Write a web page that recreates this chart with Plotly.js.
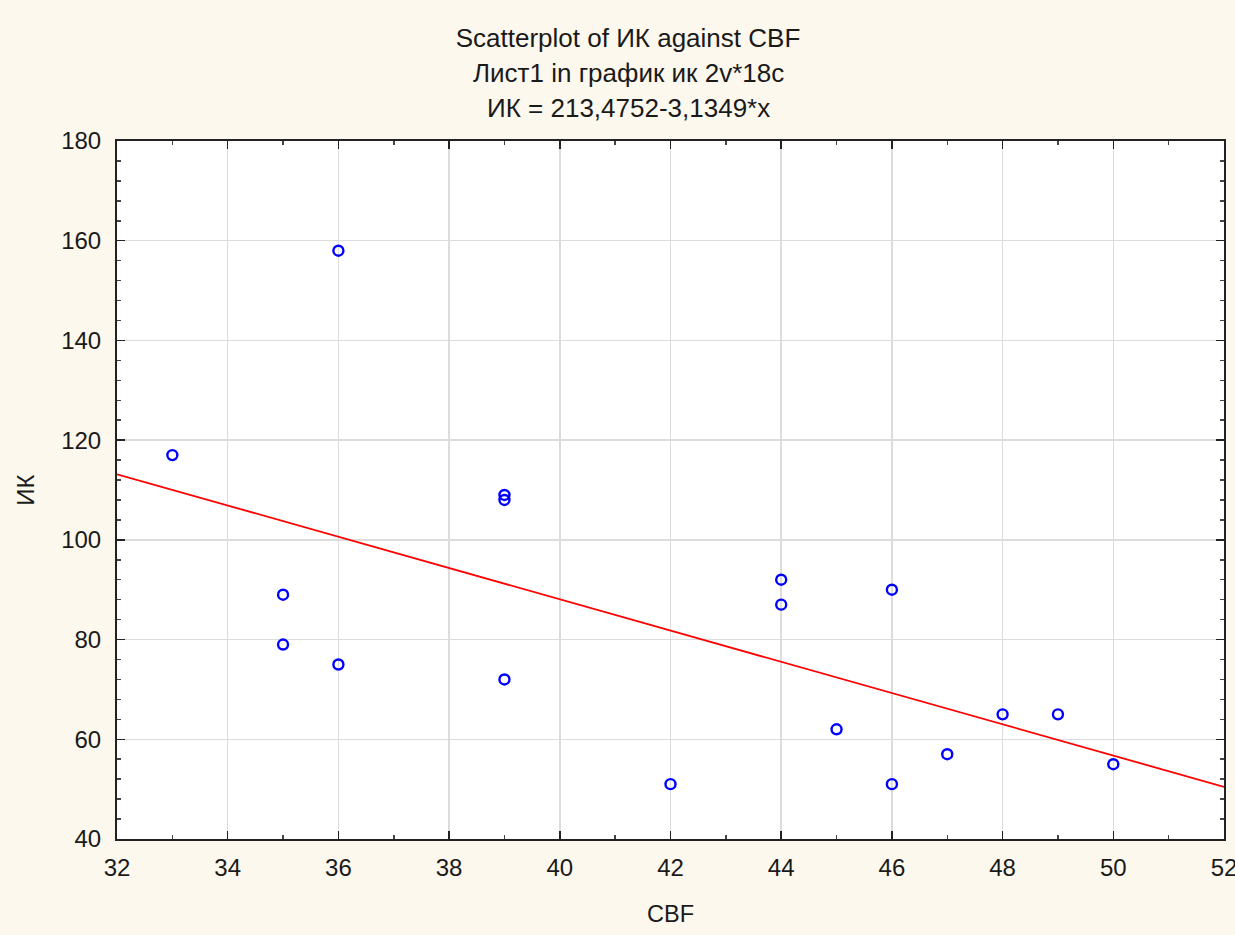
<!DOCTYPE html>
<html>
<head>
<meta charset="utf-8">
<script src="https://cdn.plot.ly/plotly-3.0.1.min.js"></script>
<style>html,body{margin:0;padding:0;background:#fdf8ee;}#chart{width:1235px;height:935px;}</style>
</head>
<body>
<div id="chart"></div>
<script>
const cbf = [33, 35, 35, 36, 36, 39, 39, 39, 42, 44, 44, 45, 46, 46, 47, 48, 49, 50];
const ik  = [117, 89, 79, 158, 75, 109, 108, 72, 51, 92, 87, 62, 90, 51, 57, 65, 65, 55];
const fitX = [32, 52];
const fitY = [113.16, 50.46];
const xTicks = [32, 34, 36, 38, 40, 42, 44, 46, 48, 50, 52];
const yTicks = [40, 60, 80, 100, 120, 140, 160, 180];
const titleLines = ['Scatterplot of ИК against CBF', 'Лист1 in график ик 2v*18c', 'ИК = 213,4752-3,1349*x'];

const font = {family: 'Liberation Sans, Arial, sans-serif', color: '#1a1a1a'};
const W = 1235, H = 935;
const ML = 117, MR = 11, MT = 141, MB = 96;
const PW = W - ML - MR, PH = H - MT - MB;
const titleCx = 628;
function py(px) { return (H - MB - px) / PH; }
function pxr(px) { return (px - ML) / PW; }

const data = [
  {x: fitX, y: fitY, mode: 'lines', type: 'scatter',
   line: {color: '#ff0000', width: 1.8}, hoverinfo: 'skip'},
  {x: cbf, y: ik, mode: 'markers', type: 'scatter',
   marker: {symbol: 'circle-open', size: 10, color: '#0000ff', line: {width: 2.4, color: '#0000ff'}}}
];

const layout = {
  width: W, height: H,
  paper_bgcolor: '#fdf8ee', plot_bgcolor: '#ffffff',
  showlegend: false,
  margin: {l: ML, r: MR, t: MT, b: MB},
  title: {
    text: titleLines[0],
    font: Object.assign({}, font, {size: 26}),
    x: titleCx / W, xanchor: 'center', xref: 'container', yref: 'container', y: 1 - 38 / H, yanchor: 'middle'
  },
  annotations: [
    {text: titleLines[1], xref: 'paper', yref: 'paper', x: pxr(titleCx), y: py(73),
     xanchor: 'center', yanchor: 'middle', showarrow: false, font: Object.assign({}, font, {size: 26})},
    {text: titleLines[2], xref: 'paper', yref: 'paper', x: pxr(titleCx), y: py(108),
     xanchor: 'center', yanchor: 'middle', showarrow: false, font: Object.assign({}, font, {size: 26})}
  ],
  xaxis: {
    range: [32, 52], tickvals: xTicks, ticktext: xTicks.map(String),
    ticks: 'inside', ticklen: 8, tickwidth: 1.5, tickcolor: '#222',
    minor: {dtick: 1, ticks: 'inside', ticklen: 4, tickcolor: '#444', showgrid: false},
    showline: true, linecolor: '#222', linewidth: 2, mirror: 'allticks',
    showgrid: true, gridcolor: '#dcdcdc', gridwidth: 1.5, zeroline: false,
    ticklabeloverflow: 'allow', ticklabelstandoff: 6,
    tickfont: Object.assign({}, font, {size: 24}),
    title: {text: 'CBF', font: Object.assign({}, font, {size: 23.5}), standoff: 26}
  },
  yaxis: {
    range: [40, 180], tickvals: yTicks, ticktext: yTicks.map(String),
    ticks: 'inside', ticklen: 8, tickwidth: 1.5, tickcolor: '#222',
    minor: {dtick: 4, ticks: 'inside', ticklen: 4, tickcolor: '#444', showgrid: false},
    showline: true, linecolor: '#222', linewidth: 2, mirror: 'allticks',
    showgrid: true, gridcolor: '#dcdcdc', gridwidth: 1.5, zeroline: false,
    ticklabeloverflow: 'allow', ticklabelstandoff: 9,
    tickfont: Object.assign({}, font, {size: 24}),
    title: {text: 'ИК', font: Object.assign({}, font, {size: 24}), standoff: 20}
  }
};

Plotly.newPlot('chart', data, layout, {displayModeBar: false, staticPlot: true});
</script>
</body>
</html>
